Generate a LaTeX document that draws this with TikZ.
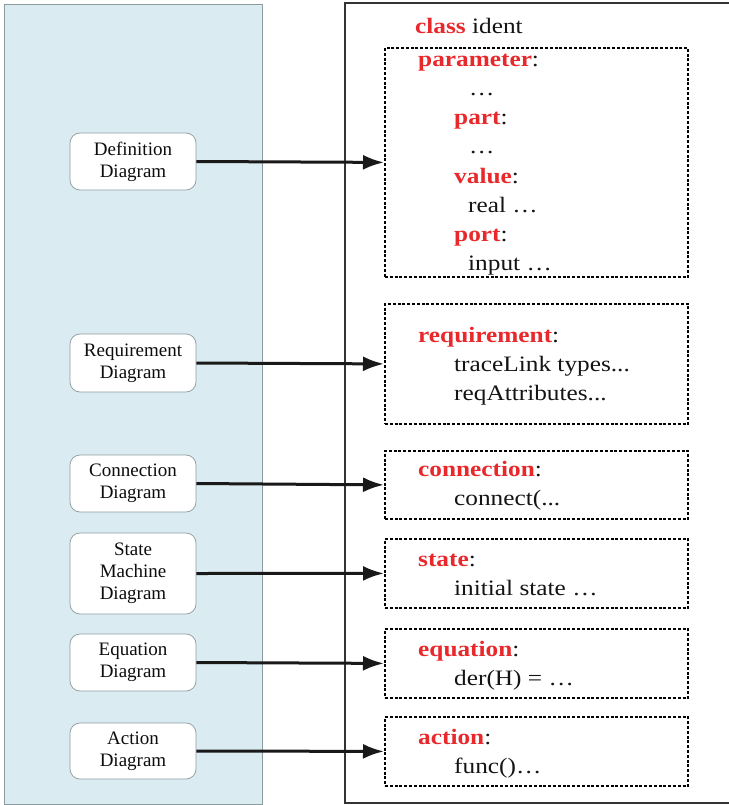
\documentclass[tikz,border=0pt]{standalone}
\usepackage{fontspec}
\setmainfont{Liberation Serif}
\newfontfamily\codefont{Liberation Serif}[FakeStretch=1.15]
\usetikzlibrary{arrows.meta}
\definecolor{panelblue}{HTML}{DAEBF1}
\definecolor{kwred}{HTML}{E8282B}
\definecolor{rimgray}{HTML}{8C9BA0}
\newcommand{\kw}[1]{\textcolor{kwred}{\bfseries #1}}

\begin{document}
\begin{tikzpicture}[x=1pt,y=-1pt,
  diag/.style={draw=rimgray, fill=white, rounded corners=10pt, line width=0.7pt,
    minimum width=126pt, align=center, inner sep=0pt,
    font=\fontsize{19}{22}\selectfont, text=black!95},
  codebox/.style={draw=black, dash pattern=on 3pt off 1.8pt, line width=1.8pt,
    minimum width=303pt, anchor=north west, inner sep=0pt},
  code/.style={anchor=base west, inner sep=0pt, text=black!92,
    font=\codefont\fontsize{22}{29}\selectfont},
  link/.style={line width=3pt, draw=black!90, -{Latex[length=21pt,width=15pt]}},
]
\useasboundingbox (0,0) rectangle (728,805);

% left panel holding the diagram kinds
\fill[panelblue] (4,4) rectangle (262,804);
\draw[rimgray, line width=0.7pt] (4,4) rectangle (262,804);

% class frame, open towards the right
\draw[black!80, line width=1.2pt] (735,3) -- (345,3) -- (345,803) -- (735,803);

% diagram kinds
\node[diag, minimum height=57pt] (def) at (133,161.5) {Definition\\Diagram};
\node[diag, minimum height=58pt] (req) at (133,363) {Requirement\\Diagram};
\node[diag, minimum height=57pt] (con) at (133,483.5) {Connection\\Diagram};
\node[diag, minimum height=81pt] (sta) at (133,573.5) {State\\Machine\\Diagram};
\node[diag, minimum height=57pt] (equ) at (133,662.5) {Equation\\Diagram};
\node[diag, minimum height=56pt] (act) at (133,751) {Action\\Diagram};

% dashed code sections
\node[codebox, minimum height=229pt] (b1) at (384,47) {};
\node[codebox, minimum height=120pt] (b2) at (384,303) {};
\node[codebox, minimum height=68pt] (b3) at (384,450) {};
\node[codebox, minimum height=69pt] (b4) at (384,538) {};
\node[codebox, minimum height=69pt] (b5) at (384,628) {};
\node[codebox, minimum height=69pt] (b6) at (384,716) {};

% class text
\node[code] (cls) at (415,34) {\kw{class} ident};

\node[code] (t11) at (418,67) {\kw{parameter}:};
\node[code] (t12) at (469,96) {…};
\node[code] (t13) at (454,125) {\kw{part}:};
\node[code] (t14) at (469,154) {…};
\node[code] (t15) at (454,183) {\kw{value}:};
\node[code] (t16) at (468,212) {real …};
\node[code] (t17) at (454,241) {\kw{port}:};
\node[code] (t18) at (468,270) {input …};

\node[code] (t21) at (418,342) {\kw{requirement}:};
\node[code] (t22) at (454,371) {traceLink types...};
\node[code] (t23) at (454,400) {reqAttributes...};

\node[code] (t31) at (418,476) {\kw{connection}:};
\node[code] (t32) at (454,505) {connect(...};

\node[code] (t41) at (418,566) {\kw{state}:};
\node[code] (t42) at (454,595) {initial state …};

\node[code] (t51) at (418,656) {\kw{equation}:};
\node[code] (t52) at (454,685) {der(H) = …};

\node[code] (t61) at (418,744) {\kw{action}:};
\node[code] (t62) at (454,773) {func()…};

% links from each diagram kind to its section
\draw[link] (def.east) -- (b1.west);
\draw[link] (req.east) -- (b2.west);
\draw[link] (con.east) -- (b3.west);
\draw[link] (sta.east) -- (b4.west);
\draw[link] (equ.east) -- (b5.west);
\draw[link] (act.east) -- (b6.west);
\end{tikzpicture}
\end{document}
